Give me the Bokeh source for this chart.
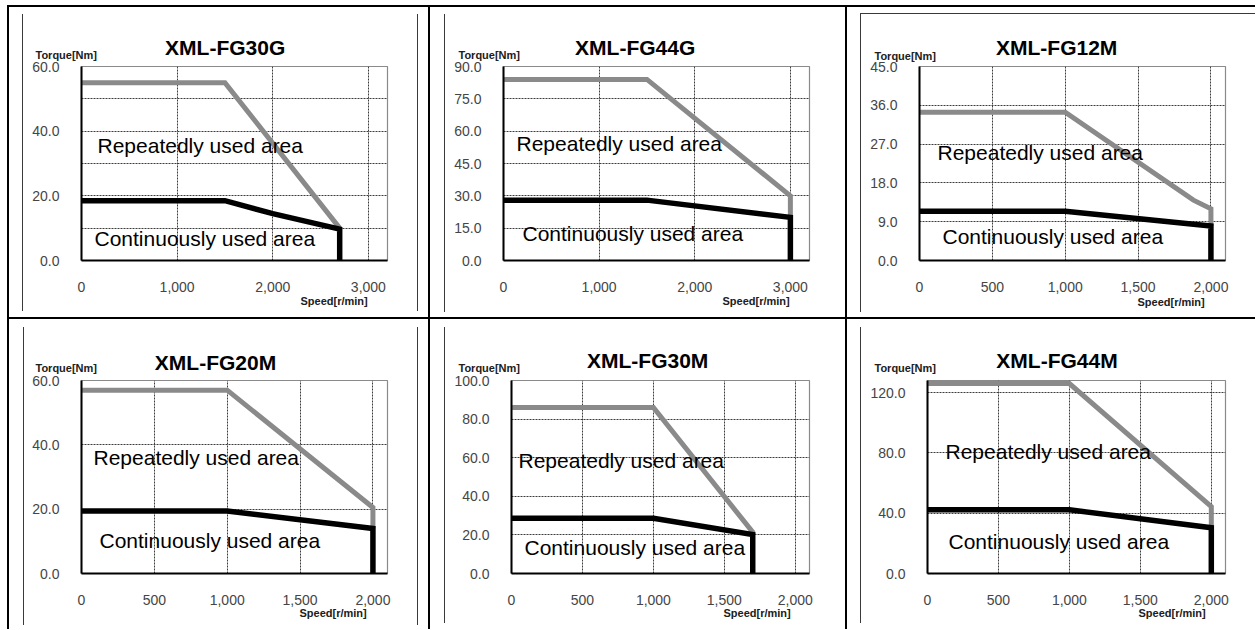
from bokeh.plotting import figure
from bokeh.models import Range1d, FixedTicker, NumeralTickFormatter, Label
from bokeh.layouts import column, row
from bokeh.embed import file_html
from bokeh.resources import INLINE

# ---------------- data ----------------
titles = ["XML-FG30G", "XML-FG44G", "XML-FG12M", "XML-FG20M", "XML-FG30M", "XML-FG44M"]
x_max = [3200, 3200, 2100, 2100, 2100, 2100]
y_max = [60, 90, 45, 60, 100, 128]
x_ticks = [[0, 1000, 2000, 3000], [0, 1000, 2000, 3000],
           [0, 500, 1000, 1500, 2000], [0, 500, 1000, 1500, 2000],
           [0, 500, 1000, 1500, 2000], [0, 500, 1000, 1500, 2000]]
x_grid = [[1000, 2000, 3000], [1000, 2000, 3000],
          [500, 1000, 1500, 2000], [500, 1000, 1500, 2000],
          [500, 1000, 1500, 2000], [500, 1000, 1500, 2000]]
y_ticks = [[0, 20, 40, 60], [0, 15, 30, 45, 60, 75, 90], [0, 9, 18, 27, 36, 45],
           [0, 20, 40, 60], [0, 20, 40, 60, 80, 100], [0, 40, 80, 120]]
y_grid = [[10, 20, 30, 40, 50], [15, 30, 45, 60, 75], [9, 18, 27, 36],
          [20, 40], [20, 40, 60, 80], [40, 80, 120]]

# repeatedly used area (grey)
rep_speed = [[0, 1500, 2700], [0, 1500, 3000, 3000], [0, 1000, 1880, 2000, 2000],
             [0, 1000, 2000, 2000], [0, 1000, 1700, 1700], [0, 1000, 2000, 2000]]
rep_torque = [[55, 55, 10], [84, 84, 30, 20], [34.4, 34.4, 14, 12, 8],
              [57, 57, 20.5, 14], [86, 86, 21.4, 20.2], [126, 126, 44.4, 30.4]]
# continuously used area (black)
cont_speed = [[0, 1500, 2000, 2700, 2700], [0, 1500, 3000, 3000], [0, 1000, 2000, 2000],
              [0, 1000, 2000, 2000], [0, 1000, 1700, 1700], [0, 1000, 2000, 2000]]
cont_torque = [[18.5, 18.5, 14.5, 9.7, 0], [28, 28, 20, 0], [11.4, 11.4, 8, 0],
               [19.4, 19.4, 14, 0], [28.6, 28.6, 20.2, 0], [42.2, 42.2, 30.4, 0]]

rep_text = "Repeatedly used area"
cont_text = "Continuously used area"
y_label = "Torque[Nm]"
x_label = "Speed[r/min]"

# ---------------- layout geometry (window pixels) ----------------
cell_x = [9, 430, 847]
cell_y = [7, 319]
cell_w = [419, 415, 408]
cell_h = [310, 310]
GAP = 2
frames = [(72, 59, 306, 194), (73, 59, 306, 194), (72, 59, 306, 194),
          (72, 60, 306, 195), (81, 60, 298, 194), (80, 61, 298, 193)]
title_pos = [(224.7, 46.7), (634.7, 46.7), (1056.2, 46.7), (215, 361.7), (647.2, 360), (1056.5, 360)]
torque_pos = [(35, 54.5), (458, 54), (874, 55), (35, 367.3), (458, 367.3), (874, 367.3)]
speed_pos = [(300, 300.5), (722, 300.3), (1137, 301.7), (299, 612.7), (723, 612.7), (1138, 612.7)]
rep_pos = [(97, 145), (516, 143.3), (937, 152.3), (93, 456.7), (518, 459), (945, 450.7)]
cont_pos = [(94, 238), (522, 232.7), (942, 235.7), (99, 541), (524, 546.7), (948, 540.7)]
thin_lines = [[(13, 7, 1, 297), (408, 7, 1, 297)],
              [(14, 7, 1, 298)],
              [(13, 6, 1, 299), (13, 6, 395, 1)],
              [(14, 8, 1, 298), (408, 8, 1, 298)],
              [(14, 8, 1, 296)],
              [(13, 8, 1, 296)]]


def bg_style(rects):
    n = len(rects)
    return {
        "background-color": "white",
        "background-image": ", ".join(["linear-gradient(#3a3a3a, #3a3a3a)"] * n),
        "background-size": ", ".join(f"{w}px {h}px" for (_, _, w, h) in rects),
        "background-position": ", ".join(f"{x}px {y}px" for (x, y, _, _) in rects),
        "background-repeat": "no-repeat",
    }


FONT = "Liberation Sans"
plots = []
for i in range(6):
    r, c = divmod(i, 3)
    cx, cy, cw, ch = cell_x[c], cell_y[r], cell_w[c], cell_h[r]
    L, T, W, H = frames[i]
    xm, ym = x_max[i], y_max[i]
    fx0, fy1 = cx + L, cy + T + H

    def dx(px):
        return (px - fx0) / W * xm

    def dy(py):
        return (fy1 - py) / H * ym

    p = figure(width=cw, height=ch, x_range=Range1d(0, xm), y_range=Range1d(0, ym),
               output_backend="svg", toolbar_location=None, title=None,
               min_border_left=L, min_border_right=cw - L - W,
               min_border_top=T, min_border_bottom=ch - T - H)
    p.border_fill_color = None
    p.background_fill_color = "white"
    p.outline_line_color = "#8a8a8a"
    p.outline_line_width = 1.2
    p.styles = bg_style(thin_lines[i])

    p.xaxis.ticker = FixedTicker(ticks=x_ticks[i])
    p.xaxis.formatter = NumeralTickFormatter(format="0,0")
    p.yaxis.ticker = FixedTicker(ticks=y_ticks[i])
    p.yaxis.formatter = NumeralTickFormatter(format="0.0")
    p.xgrid.ticker = FixedTicker(ticks=x_grid[i])
    p.ygrid.ticker = FixedTicker(ticks=y_grid[i])
    p.grid.grid_line_color = "#3c3c3c"
    p.grid.grid_line_dash = "2 1"
    p.grid.grid_line_width = 1
    p.axis.major_tick_out = 0
    p.axis.major_tick_in = 0
    p.axis.minor_tick_out = 0
    p.axis.minor_tick_in = 0
    p.axis.axis_line_color = "black"
    p.axis.axis_line_width = 2
    p.axis.major_label_text_font = FONT
    p.axis.major_label_text_font_size = "14px"
    p.axis.major_label_text_color = "#454545"
    p.yaxis.major_label_standoff = 22
    p.xaxis.major_label_standoff = 21

    p.line(rep_speed[i], rep_torque[i], line_color="#8a8a8a", line_width=5, line_join="miter")
    p.line(cont_speed[i], cont_torque[i], line_color="black", line_width=5.5, line_join="miter")

    tx, ty = rep_pos[i]
    p.add_layout(Label(x=dx(tx), y=dy(ty), text=rep_text, text_font=FONT, text_font_size="21px",
                       text_align="left", text_baseline="middle", text_color="black"))
    tx, ty = cont_pos[i]
    p.add_layout(Label(x=dx(tx), y=dy(ty), text=cont_text, text_font=FONT, text_font_size="21px",
                       text_align="left", text_baseline="middle", text_color="black"))
    plots.append(p)

# transparent overlay in window-pixel coordinates for titles and axis captions
TW = sum(cell_w) + 2 * GAP
TH = sum(cell_h) + GAP
ov = figure(width=TW, height=TH, x_range=Range1d(cell_x[0], cell_x[0] + TW),
            y_range=Range1d(cell_y[0] + TH, cell_y[0]), output_backend="svg",
            toolbar_location=None, title=None, x_axis_location=None, y_axis_location=None,
            min_border=0)
ov.grid.visible = False
ov.outline_line_color = None
ov.background_fill_color = None
ov.border_fill_color = None
for i in range(6):
    tx, ty = title_pos[i]
    ov.add_layout(Label(x=tx, y=ty, text=titles[i], text_font=FONT, text_font_size="21px",
                        text_font_style="bold", text_align="center", text_baseline="middle",
                        text_color="black"))
    tx, ty = torque_pos[i]
    ov.add_layout(Label(x=tx, y=ty, text=y_label, text_font=FONT, text_font_size="11px",
                        text_font_style="bold", text_align="left", text_baseline="middle",
                        text_color="#202020"))
    tx, ty = speed_pos[i]
    ov.add_layout(Label(x=tx, y=ty, text=x_label, text_font=FONT, text_font_size="11px",
                        text_font_style="bold", text_align="left", text_baseline="middle",
                        text_color="#202020"))

overlay = row(ov, styles={"margin-top": f"-{TH + GAP}px"})

layout = column(row(plots[0], plots[1], plots[2], spacing=GAP),
                row(plots[3], plots[4], plots[5], spacing=GAP),
                overlay,
                spacing=GAP,
                styles={"background-color": "black", "padding": "2px 0 0 2px",
                        "margin": "5px 0 0 7px"})

open("out.html", "w").write(file_html(layout, INLINE))
